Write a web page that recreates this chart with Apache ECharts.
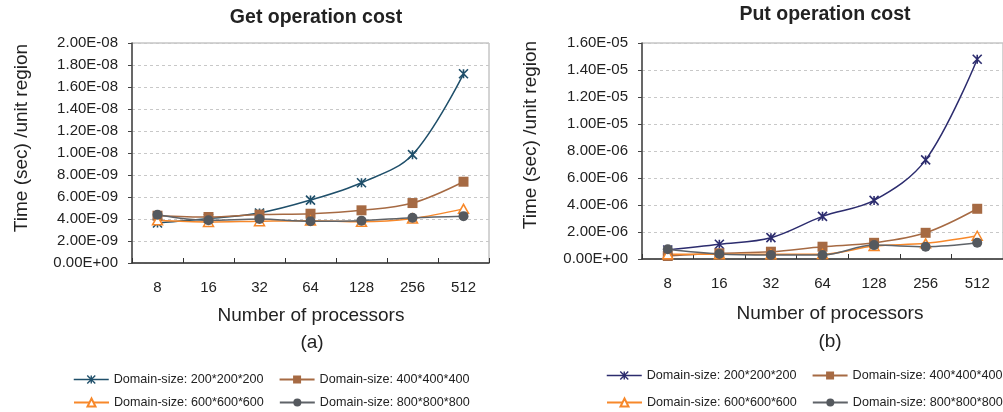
<!DOCTYPE html>
<html>
<head>
<meta charset="utf-8">
<script src="https://cdn.jsdelivr.net/npm/echarts@6/dist/echarts.min.js"></script>
<style>
  html, body { margin: 0; padding: 0; background: #fff; }
  #chart { width: 1003px; height: 412px; }
</style>
</head>
<body>
<div id="chart"></div>
<script>
// Number of processors (x categories)
const processors = ['8', '16', '32', '64', '128', '256', '512'];

// Series names
const seriesNames = [
  'Domain-size: 200*200*200',
  'Domain-size: 400*400*400',
  'Domain-size: 600*600*600',
  'Domain-size: 800*800*800'
];

// Get operation cost, seconds per unit region
const get200 = [3.64e-9, 4.05e-9, 4.55e-9, 5.72e-9, 7.30e-9, 9.85e-9, 1.72e-8];
const get400 = [4.30e-9, 4.18e-9, 4.40e-9, 4.48e-9, 4.79e-9, 5.45e-9, 7.39e-9];
const get600 = [3.88e-9, 3.73e-9, 3.80e-9, 3.85e-9, 3.75e-9, 4.05e-9, 4.92e-9];
const get800 = [4.39e-9, 3.88e-9, 4.00e-9, 3.79e-9, 3.85e-9, 4.12e-9, 4.26e-9];

// Put operation cost, seconds per unit region
const put200 = [0.67e-6, 1.09e-6, 1.58e-6, 3.16e-6, 4.34e-6, 7.34e-6, 1.48e-5];
const put400 = [0.22e-6, 0.42e-6, 0.54e-6, 0.91e-6, 1.20e-6, 1.94e-6, 3.72e-6];
const put600 = [0.35e-6, 0.35e-6, 0.35e-6, 0.36e-6, 0.96e-6, 1.16e-6, 1.72e-6];
const put800 = [0.72e-6, 0.37e-6, 0.30e-6, 0.30e-6, 1.03e-6, 0.91e-6, 1.20e-6];

// Axis ranges
const getAxis = { min: 0, max: 2.0e-8, interval: 2.0e-9 };
const putAxis = { min: 0, max: 1.6e-5, interval: 2.0e-6 };

const FONT = 'Liberation Sans, Arial, sans-serif';
const starPath = 'path://M0,0L10,10M10,0L0,10M5,0L5,10';

const colGetStar = '#1f4f6a';
const colPutStar = '#2c2c6e';
const colSquare = '#a66a43';
const colTri = '#f7882a';
const colCircle = '#55595e';

// Format tick values like 2.00E-08
function sci(v) {
  if (Math.abs(v) < 1e-30) return '0.00E+00';
  const parts = v.toExponential(2).split('e');
  let e = parseInt(parts[1], 10);
  const sign = e < 0 ? '-' : '+';
  e = Math.abs(e);
  return parts[0] + 'E' + sign + (e < 10 ? '0' + e : '' + e);
}

function makeSeries(idx, data, name, kind, starColor) {
  const base = {
    name: name,
    type: 'line',
    xAxisIndex: idx,
    yAxisIndex: idx,
    data: data,
    smooth: 0.35,
    symbolSize: 9,
    showAllSymbol: true,
    lineStyle: { width: 1.5 },
    emphasis: { disabled: true },
    animation: false
  };
  if (kind === 'star') {
    base.symbol = starPath;
    base.symbolSize = [9, 9];
    base.itemStyle = { color: starColor, borderColor: starColor, borderWidth: 1.6 };
    base.lineStyle.color = starColor;
  } else if (kind === 'square') {
    base.symbol = 'rect';
    base.symbolSize = 10;
    base.itemStyle = { color: colSquare };
    base.lineStyle.color = colSquare;
  } else if (kind === 'tri') {
    base.symbol = 'triangle';
    base.symbolSize = [10, 9];
    base.itemStyle = { color: '#ffffff', borderColor: colTri, borderWidth: 1.5 };
    base.lineStyle.color = colTri;
  } else {
    base.symbol = 'circle';
    base.symbolSize = 10;
    base.itemStyle = { color: colCircle };
    base.lineStyle.color = '#5f6368';
  }
  return base;
}

function xAxisFor(idx) {
  return {
    type: 'category',
    gridIndex: idx,
    data: processors,
    boundaryGap: true,
    axisLine: { show: true, lineStyle: { color: '#333', width: 1.5 } },
    axisTick: { show: true, inside: true, length: 5, lineStyle: { color: '#333' } },
    axisLabel: { color: '#222', fontSize: 15, fontFamily: FONT, margin: 17 },
    splitLine: { show: false }
  };
}

function yAxisFor(idx, range) {
  return {
    type: 'value',
    gridIndex: idx,
    min: range.min,
    max: range.max,
    interval: range.interval,
    axisLine: { show: true, lineStyle: { color: '#444', width: 1.5 } },
    axisTick: { show: true, length: 4, lineStyle: { color: '#444' } },
    axisLabel: { color: '#222', fontSize: 15, fontFamily: FONT, margin: 14, formatter: sci },
    splitLine: { show: true, lineStyle: { color: '#c8c8c8', type: [3, 3], width: 1 } }
  };
}

function legendRow(names, left, top, starColor) {
  return {
    left: left,
    top: top,
    width: 600,
    padding: 0,
    orient: 'horizontal',
    itemWidth: 35,
    itemHeight: 10,
    itemGap: 15,
    selectedMode: false,
    textStyle: { fontSize: 12.6, fontFamily: FONT, color: '#222' },
    data: names.map(function (n) {
      if (n === seriesNames[0]) {
        return {
          name: n,
          itemStyle: { color: starColor, borderColor: starColor, borderWidth: 1.4 },
          lineStyle: { color: starColor, width: 1.5 }
        };
      }
      return { name: n };
    })
  };
}

function txt(x, y, text, size, bold, rotate) {
  return {
    type: 'text',
    x: x,
    y: y,
    rotation: rotate ? Math.PI / 2 : 0,
    style: {
      text: text,
      fill: '#222',
      font: (bold ? 'bold ' : '') + size + 'px ' + FONT,
      textAlign: 'center',
      textVerticalAlign: 'middle'
    },
    silent: true
  };
}

const chart = echarts.init(document.getElementById('chart'), null, { renderer: 'canvas' });

const option = {
  backgroundColor: '#ffffff',
  animation: false,
  grid: [
    { left: 132, top: 43, width: 357, height: 220, show: true, borderColor: '#a8a8a8', borderWidth: 1, backgroundColor: 'transparent' },
    { left: 642, top: 43, width: 369, height: 216, show: true, borderColor: '#a8a8a8', borderWidth: 1, backgroundColor: 'transparent' }
  ],
  xAxis: [xAxisFor(0), xAxisFor(1)],
  yAxis: [yAxisFor(0, getAxis), yAxisFor(1, putAxis)],
  legend: [
    legendRow([seriesNames[0], seriesNames[1]], 73, 373, colGetStar),
    legendRow([seriesNames[2], seriesNames[3]], 73, 396, colGetStar),
    legendRow([seriesNames[0], seriesNames[1]], 606, 369, colPutStar),
    legendRow([seriesNames[2], seriesNames[3]], 606, 396, colPutStar)
  ],
  graphic: [
    txt(316, 18, 'Get operation cost', 19.5, true, false),
    txt(825, 15, 'Put operation cost', 19.5, true, false),
    txt(22, 138, 'Time (sec) /unit region', 19, false, true),
    txt(531, 135, 'Time (sec) /unit region', 19, false, true),
    txt(311, 316, 'Number of processors', 19, false, false),
    txt(830, 314, 'Number of processors', 19, false, false),
    txt(312, 343, '(a)', 19, false, false),
    txt(830, 342, '(b)', 19, false, false)
  ],
  series: [
    makeSeries(0, get200, seriesNames[0], 'star', colGetStar),
    makeSeries(0, get400, seriesNames[1], 'square'),
    makeSeries(0, get600, seriesNames[2], 'tri'),
    makeSeries(0, get800, seriesNames[3], 'circle'),
    makeSeries(1, put200, seriesNames[0], 'star', colPutStar),
    makeSeries(1, put400, seriesNames[1], 'square'),
    makeSeries(1, put600, seriesNames[2], 'tri'),
    makeSeries(1, put800, seriesNames[3], 'circle')
  ]
};

chart.setOption(option);
</script>
</body>
</html>
